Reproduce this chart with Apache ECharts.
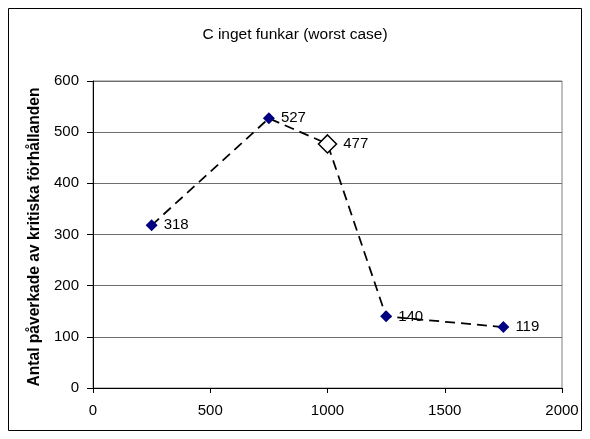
<!DOCTYPE html>
<html>
<head>
<meta charset="utf-8">
<script src="https://cdn.jsdelivr.net/npm/echarts@6/dist/echarts.min.js"></script>
<style>
html,body{margin:0;padding:0;background:#fff;}
#chart{width:590px;height:439px;}
</style>
</head>
<body>
<div id="chart"></div>
<script>
const titleText = 'C inget funkar (worst case)';
const yAxisName = 'Antal påverkade av kritiska förhållanden';
const xValues = [250, 750, 1000, 1250, 1750];
const yValues = [318, 527, 477, 140, 119];
const highlightIndex = 2;

const chart = echarts.init(document.getElementById('chart'), null, {renderer: 'canvas'});
const font = 'Liberation Sans, Arial, sans-serif';

const seriesData = xValues.map((x, i) => {
  const item = {value: [x, yValues[i]]};
  if (i === highlightIndex) {
    item.symbolSize = 18;
    item.itemStyle = {color: '#ffffff', borderColor: '#000000', borderWidth: 1.5};
  }
  return item;
});

chart.setOption({
  animation: false,
  backgroundColor: '#ffffff',
  title: {
    text: titleText,
    left: 'center',
    top: 22,
    textStyle: {fontFamily: font, fontSize: 15.5, fontWeight: 'normal', color: '#000'}
  },
  graphic: [{
    type: 'rect',
    shape: {x: 8.5, y: 8.5, width: 573, height: 422},
    style: {fill: 'none', stroke: '#000', lineWidth: 1},
    z: -1
  }],
  grid: {
    left: 93, right: 28, top: 81, bottom: 51,
    show: true, borderColor: '#808080', borderWidth: 1
  },
  xAxis: {
    type: 'value', min: 0, max: 2000, interval: 500,
    axisLine: {show: true, lineStyle: {color: '#000', width: 1}},
    axisTick: {show: true, inside: false, length: 5, lineStyle: {color: '#000'}},
    axisLabel: {fontFamily: font, fontSize: 15, color: '#000', margin: 15, formatter: v => String(v)},
    splitLine: {show: false}
  },
  yAxis: {
    type: 'value', min: 0, max: 600, interval: 100,
    name: yAxisName,
    nameLocation: 'middle',
    nameGap: 45,
    nameTextStyle: {fontFamily: font, fontSize: 15.6, fontWeight: 'bold', color: '#000', padding: [0, 5, 0, 0]},
    axisLine: {show: true, lineStyle: {color: '#000', width: 1}},
    axisTick: {show: true, inside: false, length: 6, lineStyle: {color: '#000'}},
    axisLabel: {fontFamily: font, fontSize: 15, color: '#000', margin: 14, formatter: v => String(v)},
    splitLine: {show: true, lineStyle: {color: '#6e6e6e', width: 1}}
  },
  series: [{
    type: 'line',
    data: seriesData,
    symbol: 'diamond',
    symbolSize: 12,
    itemStyle: {color: '#000080', borderWidth: 0},
    lineStyle: {color: '#000', width: 1.75, type: [10, 6]},
    label: {
      show: true, position: 'right', distance: 6,
      fontFamily: font, fontSize: 15, color: '#000',
      formatter: p => p.value[1]
    },
    z: 3
  }]
});
</script>
</body>
</html>
